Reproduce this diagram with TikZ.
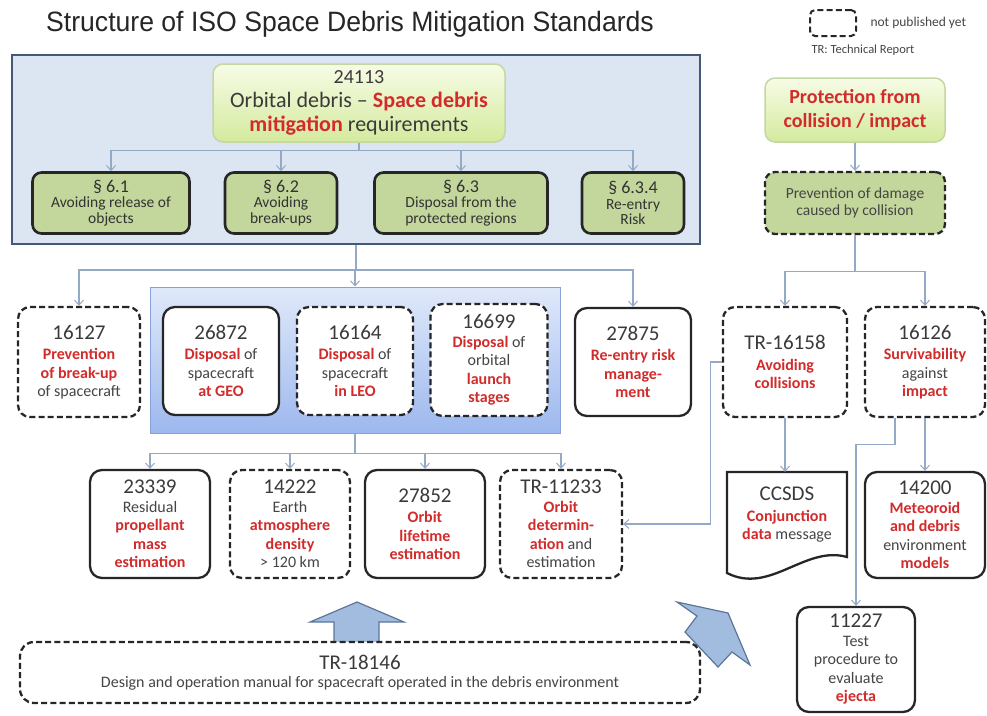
\documentclass[tikz,border=0pt]{standalone}
\usepackage{fontspec}
\setmainfont{Carlito}
\newfontfamily\titlefont[FakeStretch=0.95]{Liberation Sans}
\usetikzlibrary{arrows.meta}
\definecolor{dred}{HTML}{D22B2B}
\definecolor{numc}{HTML}{3A3A3A}
\definecolor{txtc}{HTML}{454545}
\definecolor{connc}{HTML}{93A9C6}
\definecolor{olive}{HTML}{C3D69B}
\definecolor{outerfill}{HTML}{DCE6F2}
\definecolor{outerdraw}{HTML}{44597A}
\definecolor{greentop}{HTML}{F7FCE6}
\definecolor{greenbot}{HTML}{D4EA9E}
\definecolor{greendraw}{HTML}{C4D6A2}
\definecolor{innertop}{HTML}{E0E9FA}
\definecolor{innerbot}{HTML}{9DB8EE}
\definecolor{innerdraw}{HTML}{86A3D8}
\definecolor{arrfill}{HTML}{A2BCE0}
\definecolor{arrdraw}{HTML}{5C7699}
\newcommand{\rd}[1]{\textcolor{dred}{\bfseries #1}}
\newcommand{\nm}[1]{{\fontsize{21}{24}\selectfont\color{numc}#1}}
\begin{document}
\begin{tikzpicture}[x=1pt,y=-1pt,
  box/.style={draw=black!85, line width=2.3pt, rounded corners=12pt, fill=white, align=center, inner sep=1pt, text=txtc, font=\fontsize{16}{18.5}\selectfont},
  dbox/.style={box, dash pattern=on 6pt off 3.2pt},
  sec/.style={box, fill=olive, rounded corners=9pt, line width=2.6pt, font=\fontsize{15.5}{15.5}\selectfont, text=black!80},
  greenbox/.style={draw=greendraw, line width=1.5pt, rounded corners=10pt, top color=greentop, bottom color=greenbot, align=center},
  conn/.style={draw=connc, line width=1.2pt},
  arr/.style={conn, -{Straight Barb[length=5pt,width=9pt,line width=1pt]}},
  blockarr/.style={fill=arrfill, draw=arrdraw, line width=1.2pt, line join=miter},
]
\useasboundingbox (0,0) rectangle (987,715);
% title and legend
\node[font=\titlefont\fontsize{28}{30}\selectfont, text=black!85] (title) at (350,24) {Structure of ISO Space Debris Mitigation Standards};
\node[dbox, rounded corners=5pt, line width=2pt, minimum width=46pt, minimum height=26pt] (legend) at (833,23) {};
\node[anchor=west, font=\fontsize{13.5}{14}\selectfont, text=txtc] (legt) at (867,23) {not published yet};
\node[anchor=west, font=\fontsize{12.5}{13}\selectfont, text=txtc] (trlab) at (808,50) {TR: Technical Report};

% outer box
\node[draw=outerdraw, fill=outerfill, line width=2pt, minimum width=688pt, minimum height=189pt] (outer) at (356,149.5) {};
\node[greenbox, minimum width=292pt, minimum height=78pt, font=\fontsize{22}{24}\selectfont, text=numc] (n24113) at (359,103)
  {{\fontsize{20}{22}\selectfont 24113}\\Orbital debris – \rd{Space debris}\\\rd{mitigation} requirements};
\node[sec, minimum width=157pt, minimum height=61pt] (s61) at (111,203) {{\fontsize{18}{18}\selectfont § 6.1}\\Avoiding release of\\objects};
\node[sec, minimum width=112pt, minimum height=61pt] (s62) at (281,203) {{\fontsize{18}{18}\selectfont § 6.2}\\Avoiding\\break-ups};
\node[sec, minimum width=173pt, minimum height=61pt] (s63) at (461,203) {{\fontsize{18}{18}\selectfont § 6.3}\\Disposal from the\\protected regions};
\node[sec, minimum width=102pt, minimum height=61pt] (s64) at (633,203) {{\fontsize{18}{18}\selectfont § 6.3.4}\\Re-entry\\Risk};
\foreach \t in {s61,s62,s63,s64} \draw[arr] (n24113.south) -- ++(0,8) -| (\t.north);

% inner box and row 2
\node[draw=innerdraw, line width=1pt, top color=innertop, bottom color=innerbot, minimum width=410pt, minimum height=146pt] (inner) at (355,360) {};
\node[dbox, minimum width=122pt, minimum height=110pt] (n16127) at (79,362) {\nm{16127}\\[2pt]\rd{Prevention}\\\rd{of break-up}\\of spacecraft};
\node[box, minimum width=116pt, minimum height=108pt] (n26872) at (221,361) {\nm{26872}\\[2pt]\rd{Disposal} of\\spacecraft\\\rd{at GEO}};
\node[dbox, minimum width=116pt, minimum height=108pt] (n16164) at (355,361) {\nm{16164}\\[2pt]\rd{Disposal} of\\spacecraft\\\rd{in LEO}};
\node[dbox, minimum width=117pt, minimum height=112pt] (n16699) at (489,360) {\nm{16699}\\\rd{Disposal} of\\orbital\\\rd{launch}\\\rd{stages}};
\node[box, minimum width=116pt, minimum height=108pt] (n27875) at (633,362) {\nm{27875}\\[2pt]\rd{Re-entry risk}\\\rd{manage-}\\\rd{ment}};
\foreach \t in {n16127,inner,n27875} \draw[arr] (outer.south) -- ++(0,25) -| (\t.north);

% row 3
\node[box, minimum width=120pt, minimum height=108pt] (n23339) at (150,524) {\nm{23339}\\Residual\\\rd{propellant}\\\rd{mass}\\\rd{estimation}};
\node[dbox, minimum width=120pt, minimum height=108pt] (n14222) at (290,524) {\nm{14222}\\Earth\\\rd{atmosphere}\\\rd{density}\\> 120 km};
\node[box, minimum width=120pt, minimum height=108pt] (n27852) at (425,524) {\nm{27852}\\[2pt]\rd{Orbit}\\\rd{lifetime}\\\rd{estimation}};
\node[dbox, minimum width=122pt, minimum height=108pt] (tr11233) at (561,524) {\nm{TR-11233}\\\rd{Orbit}\\\rd{determin-}\\\rd{ation} and\\estimation};
\foreach \t in {n23339,n14222,n27852,tr11233} \draw[arr] (inner.south) -- ++(0,20) -| (\t.north);

% bottom block arrows and TR-18146
\draw[blockarr] (334,644) -- (334,622) -- (310,622) -- (357,602) -- (404,622) -- (379,622) -- (379,644) -- cycle;
\draw[blockarr] (677,602) -- (728,613) -- (750,665) -- (732,652) -- (718,667) -- (685,632) -- (697,616) -- cycle;
\node[dbox, rounded corners=14pt, minimum width=680pt, minimum height=61pt, font=\fontsize{16}{17}\selectfont] (tr18146) at (360,672.5)
  {\nm{TR-18146}\\[1pt]Design and operation manual for spacecraft operated in the debris environment};

% right column
\node[greenbox, minimum width=180pt, minimum height=64pt, font=\fontsize{20}{24}\selectfont] (prot) at (855,110) {\rd{Protection from}\\\rd{collision / impact}};
\node[dbox, fill=olive, rounded corners=10pt, minimum width=180pt, minimum height=62pt, font=\fontsize{15.5}{17}\selectfont] (prev) at (855,203) {Prevention of damage\\caused by collision};
\draw[arr] (prot.south) -- (prev.north);
\node[dbox, minimum width=124pt, minimum height=110pt] (tr16158) at (785,362) {\nm{TR-16158}\\[2pt]\rd{Avoiding}\\\rd{collisions}};
\node[dbox, minimum width=120pt, minimum height=110pt] (n16126) at (925,362) {\nm{16126}\\[2pt]\rd{Survivability}\\against\\\rd{impact}};
\foreach \t in {tr16158,n16126} \draw[arr] (prev.south) -- ++(0,36) -| (\t.north);

\draw[line width=2.3pt, draw=black!85, fill=white] (727,472) -- (847,472) -- (847,557) .. controls (805,545) and (770,595) .. (727,573) -- cycle;
\node[align=center, inner sep=1pt, text=txtc, font=\fontsize{16}{18.5}\selectfont, minimum width=120pt, minimum height=86pt] (ccsds) at (787,515) {\nm{CCSDS}\\[2pt]\rd{Conjunction}\\\rd{data} message};
\node[box, minimum width=120pt, minimum height=106pt] (n14200) at (925,525) {\nm{14200}\\\rd{Meteoroid}\\\rd{and debris}\\environment\\\rd{models}};
\node[box, minimum width=118pt, minimum height=105pt] (n11227) at (856,659.5) {\nm{11227}\\Test\\procedure to\\evaluate\\\rd{ejecta}};

\draw[arr] (tr16158.south) -- (tr16158.south |- ccsds.north);
\draw[arr] (n16126.south) -- (n16126.south |- n14200.north);
\draw[arr] ([xshift=-30pt]n16126.south) -- ++(0,26) -| (n11227.north);
\draw[arr] (tr16158.west) -- ++(-11,0) |- (tr11233.east);
\end{tikzpicture}
\end{document}
